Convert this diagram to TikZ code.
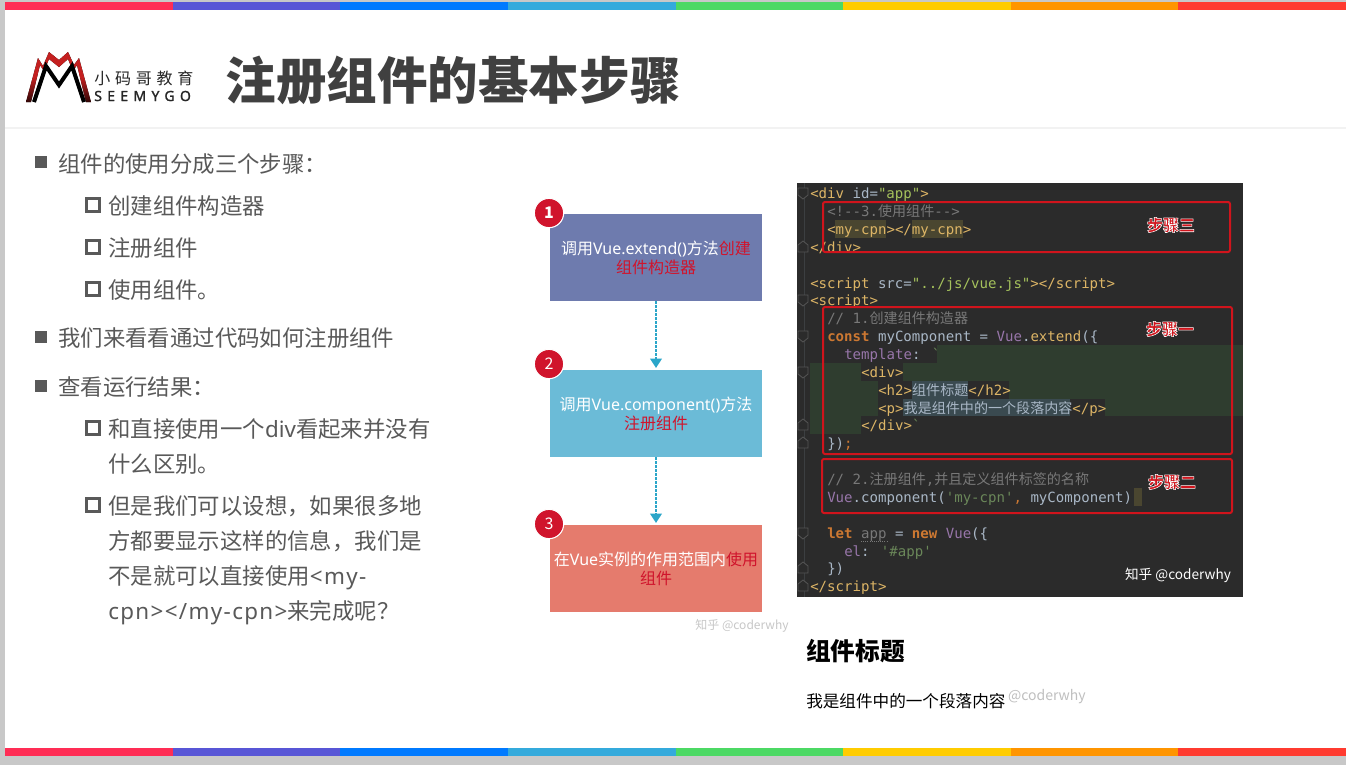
\documentclass[tikz,border=0pt]{standalone}
\usepackage{fontspec}
\setmainfont{Noto Sans CJK SC}
\newfontfamily\titlefont{Noto Sans CJK SC Black}
\newfontfamily\codefont{DejaVu Sans Mono}
\newfontfamily\latinfont{Noto Sans}
\newfontfamily\tagfont[LetterSpace=6]{Noto Sans}
\newfontfamily\logofont[LetterSpace=30]{Noto Sans CJK SC}
\newfontfamily\logolatin[LetterSpace=38,FakeBold=1.5]{Noto Sans}
\usepackage{tikz}
\usetikzlibrary{positioning, arrows.meta}
\definecolor{colorBody}{HTML}{595959}
\definecolor{colorTitle}{HTML}{404040}
\definecolor{colorPage}{HTML}{C8C8C8}
\definecolor{colorPanel}{HTML}{2B2B2B}
\definecolor{colorFold}{HTML}{555555}
\definecolor{colorGuide}{HTML}{3C3F41}
\definecolor{colorGreen}{HTML}{2F3D2F}
\definecolor{colorTag}{HTML}{DDB566}
\definecolor{colorText}{HTML}{A9B7C6}
\definecolor{colorNote}{HTML}{787878}
\definecolor{colorKey}{HTML}{CC7832}
\definecolor{colorVar}{HTML}{9876AA}
\definecolor{colorStr}{HTML}{6A8759}
\definecolor{colorAttr}{HTML}{A5C25C}
\definecolor{colorBox}{HTML}{D0141C}
\definecolor{colorArrow}{HTML}{2BA6C9}
\definecolor{colorRed}{HTML}{D0142C}
\definecolor{colorLogo}{HTML}{C42020}
\definecolor{colorLogoEnd}{HTML}{300606}
\definecolor{colorMatch}{HTML}{4A4630}
\definecolor{colorPick}{HTML}{3A4A50}
\tikzstyle{bodytext} =[anchor=west, align=left, inner sep=0pt, text=colorBody, font=\fontsize{16.8pt}{26.25pt}\selectfont]
\tikzstyle{bulletOne} =[fill=colorBody, minimum size=9pt, inner sep=0pt]
\tikzstyle{bulletTwo} =[draw=colorBody, line width=2.4pt, minimum size=10pt, inner sep=0pt]
\tikzstyle{stepbox} =[minimum width=159pt, minimum height=65.25pt, inner sep=0pt, outer sep=0pt, align=center, text=white, font=\fontsize{12pt}{14.25pt}\selectfont]
\tikzstyle{stepnum} =[circle, fill=colorRed, draw=white, line width=0.8pt, minimum size=22pt, inner sep=0pt, text=white, font=\fontsize{12pt}{12pt}\selectfont]
\tikzstyle{stepflow} =[-{Triangle[width=8.5pt,length=7pt]}, densely dotted, line width=2pt, colorArrow, shorten >=1.5pt]
\tikzstyle{codeline} =[anchor=base west, inner sep=0pt, text=colorText, font=\fontsize{10.55pt}{12pt}\codefont]
\tikzstyle{redbox} =[draw=colorBox, line width=1.5pt, rounded corners=1.5pt]
\tikzstyle{marktext} =[inner sep=0pt, text=colorBox, font=\fontsize{12pt}{12pt}\bfseries]
\newcommand{\zh}[1]{{\rmfamily #1}}
\newcommand{\la}[1]{{\latinfont #1}}
\newcommand{\tg}[1]{\textcolor{colorTag}{#1}}
\newcommand{\hl}[1]{\textcolor{colorRed}{#1}}
\newcommand{\halo}[1]{\special{pdf:code 2 Tr 1 1 1 RG 0.4 w}#1\special{pdf:code 0 Tr}}
\begin{document}
\begin{tikzpicture}[x=0.75pt, y=-0.75pt]
\useasboundingbox (0,0) rectangle (1346,765);
\fill[colorPage] (0,0) rectangle (1346,765);
\fill[white] (4.5,2) rectangle (1346,755.5);

%colour bars
\foreach \barColor [count=\i from 0] in {FF2D55,5856D6,007AFF,34AADC,4CD964,FFCC00,FF9500,FF3B30} {
	\definecolor{barNow}{HTML}{\barColor}
	\fill[barNow] ({5+167.625*\i},2) rectangle ({5+167.625*(\i+1)},10);
	\fill[barNow] ({5+167.625*\i},747.5) rectangle ({5+167.625*(\i+1)},755.5);
}
\fill[black!5] (5,127) rectangle (1346,128.5);

%logo
\fill[top color=colorLogo, bottom color=colorLogoEnd, middle color=colorLogo]
	(26,102) -- (38,58) -- (43,66) -- (49,52) -- (59,60) -- (68,52) -- (74,65) -- (79,58) -- (91,102) -- (86,102) -- (77,65) -- (73,71) -- (68,59) -- (59,67) -- (49,59) -- (44,71) -- (40,65) -- (31,102) -- cycle;
\draw[black, line width=3pt] (34,102) -- (46,66) -- (59,85) -- (72,66) -- (84,102);
\node (logoZh) [anchor=west, inner sep=0pt, text=black!85, font=\fontsize{12pt}{12pt}\logofont] at (94,78) {小码哥教育};
\node (logoEn) [anchor=west, inner sep=0pt, text=black!85, font=\fontsize{10.5pt}{12pt}\logolatin] at (94,96) {SEEMYGO};

\node (title) [anchor=west, inner sep=0pt, text=colorTitle, font=\fontsize{37.9pt}{40pt}\titlefont] at (225.5,80) {注册组件的基本步骤};

%left text
\node (bulletA) [bulletOne] at (41,162) {};
\node (textA) [bodytext] at (58,164) {组件的使用分成三个步骤：};
\node (bulletB) [bulletTwo] at (93,205) {};
\node (textB) [bodytext] at (108,206) {创建组件构造器};
\node (bulletC) [bulletTwo] at (93,247) {};
\node (textC) [bodytext] at (108,248) {注册组件};
\node (bulletD) [bulletTwo] at (93,289) {};
\node (textD) [bodytext] at (108,290) {使用组件。};
\node (bulletE) [bulletOne] at (41,337) {};
\node (textE) [bodytext] at (58,338) {我们来看看通过代码如何注册组件};
\node (bulletF) [bulletOne] at (41,386) {};
\node (textF) [bodytext] at (58,387) {查看运行结果：};
\node (bulletG) [bulletTwo] at (93,428) {};
\node (textG) [bodytext] at (108,446.5) {和直接使用一个\la{div}看起来并没有\\什么区别。};
\node (bulletH) [bulletTwo] at (93,505) {};
\node (textH) [bodytext] at (108,560.5) {但是我们可以设想，如果很多地\\方都要显示这样的信息，我们是\\不是就可以直接使用{\tagfont <my-}\\{\tagfont cpn></my-cpn>}来完成呢？};

%steps
\node (stepOne) [stepbox, fill={rgb,255:red,110;green,123;blue,174}] at (656,257.5) {调用\la{Vue.extend()}方法\hl{创建}\\\hl{组件构造器}};
\node (stepTwo) [stepbox, fill={rgb,255:red,107;green,187;blue,215}, below=51.75pt of stepOne] {调用\la{Vue.component()}方法\\\hl{注册组件}};
\node (stepThree) [stepbox, fill={rgb,255:red,229;green,123;blue,109}, below=51pt of stepTwo] {在\la{Vue}实例的作用范围内\hl{使用}\\\hl{组件}};
\node (numOne) [stepnum, font=\fontsize{12pt}{12pt}\bfseries] at (549,213) {1};
\node (numTwo) [stepnum] at (549,364) {2};
\node (numThree) [stepnum] at (549,524) {3};
\draw[stepflow] (stepOne) -- (stepTwo);
\draw[stepflow] (stepTwo) -- (stepThree);
\node (markLeft) [inner sep=0pt, text=black!22, font=\fontsize{9pt}{12pt}\selectfont] at (742,626) {知乎 @coderwhy};

%code panel
\fill[colorPanel] (797,183) rectangle (1243,597);
\draw[colorGuide, line width=0.6pt] (804,183) -- (804,597);
\fill[colorGreen] (937,345) rectangle (1243,363);
\fill[colorGreen] (810,363) rectangle (861,381);
\fill[colorGreen] (903,363) rectangle (1243,381);
\fill[colorGreen] (810,381) rectangle (878,416);
\fill[colorGreen] (1009,381) rectangle (1243,399);
\fill[colorGreen] (1105,399) rectangle (1243,416);
\fill[colorGreen] (810,416) rectangle (861,434);
\fill[colorMatch] (835,220) rectangle (886,238);
\fill[colorMatch] (912,220) rectangle (963,238);
\fill[colorMatch] (1134,488) rectangle (1142,506);
\fill[colorPick] (912,381) rectangle (968,399);
\fill[colorPick] (903,399) rectangle (1070,416);
\foreach \foldY in {193,300,336,372,533} {
	\draw[colorFold, fill=colorPanel, line width=0.6pt] (798,\foldY-5) -- (808,\foldY-5) -- (808,\foldY+2) -- (803,\foldY+6) -- (798,\foldY+2) -- cycle;
}
\foreach \foldY in {247,425,443,568,586} {
	\draw[colorFold, fill=colorPanel, line width=0.6pt] (798,\foldY+5) -- (808,\foldY+5) -- (808,\foldY-2) -- (803,\foldY-6) -- (798,\foldY-2) -- cycle;
}
\draw[colorNote, densely dotted, line width=0.6pt] (861,541) -- (887,541);

\node (codeA) [codeline] at (810,198) {\tg{<div} id=\textcolor{colorAttr}{"app"}\tg{>}};
\node (codeB) [codeline, text=colorNote] at (827,216) {<!--3.\zh{使用组件}-->};
\node (codeC) [codeline] at (827,234) {\tg{<my-cpn></my-cpn>}};
\node (codeD) [codeline] at (810,252) {\tg{</div>}};
\node (codeE) [codeline] at (810,288) {\tg{<script} src=\textcolor{colorAttr}{"../js/vue.js"}\tg{></script>}};
\node (codeF) [codeline] at (810,305) {\tg{<script>}};
\node (codeG) [codeline, text=colorNote] at (827,323) {// 1.\zh{创建组件构造器}};
\node (codeH) [codeline] at (827,341) {\textcolor{colorKey}{\bfseries const} myComponent = \textcolor{colorVar}{Vue}.\tg{extend}(\{};
\node (codeI) [codeline] at (844,359) {\textcolor{colorVar}{template}: \textcolor{colorStr}{`}};
\node (codeJ) [codeline] at (861,377) {\tg{<div>}};
\node (codeK) [codeline] at (878,395) {\tg{<h2>}\zh{组件标题}\tg{</h2>}};
\node (codeL) [codeline] at (878,413) {\tg{<p>}\zh{我是组件中的一个段落内容}\tg{</p>}};
\node (codeM) [codeline] at (861,430) {\tg{</div>}\textcolor{colorStr}{`}};
\node (codeN) [codeline] at (827,448) {\})\textcolor{colorKey}{;}};
\node (codeO) [codeline, text=colorNote] at (827,484) {// 2.\zh{注册组件},\zh{并且定义组件标签的名称}};
\node (codeP) [codeline] at (827,502) {\textcolor{colorVar}{Vue}.component(\textcolor{colorStr}{'my-cpn'}\textcolor{colorKey}{,} myComponent)};
\node (codeQ) [codeline] at (827,538) {\textcolor{colorKey}{\bfseries let} \textcolor{colorNote}{app} = \textcolor{colorKey}{\bfseries new} \textcolor{colorVar}{Vue}(\{};
\node (codeR) [codeline] at (844,556) {\textcolor{colorVar}{el}: \textcolor{colorStr}{'\#app'}};
\node (codeS) [codeline] at (827,573) {\})};
\node (codeT) [codeline] at (810,591) {\tg{</script>}};

%step boxes in the code
\node (boxThree) [redbox, minimum width=305.25pt, minimum height=37.5pt, inner sep=0pt] at (1026.5,227) {};
\node (boxOne) [redbox, minimum width=306.75pt, minimum height=110.25pt, inner sep=0pt] at (1027.5,380.5) {};
\node (boxTwo) [redbox, minimum width=307.5pt, minimum height=40.5pt, inner sep=0pt] at (1027,486) {};
\node (markThree) [marktext] at (1171,225) {\halo{步骤三}};
\node (markOne) [marktext] at (1170,329) {\halo{步骤一}};
\node (markTwo) [marktext] at (1172,482) {\halo{步骤二}};
\node (markCode) [inner sep=0pt, text=white, font=\fontsize{10.2pt}{12pt}\selectfont] at (1178,575.5) {知乎 @coderwhy};

%result
\node (resultTitle) [anchor=west, inner sep=0pt, text=black, font=\fontsize{18.5pt}{20pt}\bfseries] at (806,651) {组件标题};
\node (resultText) [anchor=west, inner sep=0pt, text=black, font=\fontsize{12.45pt}{14pt}\selectfont] at (806,701) {我是组件中的一个段落内容};
\node (markResult) [anchor=east, inner sep=0pt, text=black!25, font=\fontsize{10.5pt}{12pt}\selectfont] at (1086,697) {@coderwhy};
\end{tikzpicture}
\end{document}
